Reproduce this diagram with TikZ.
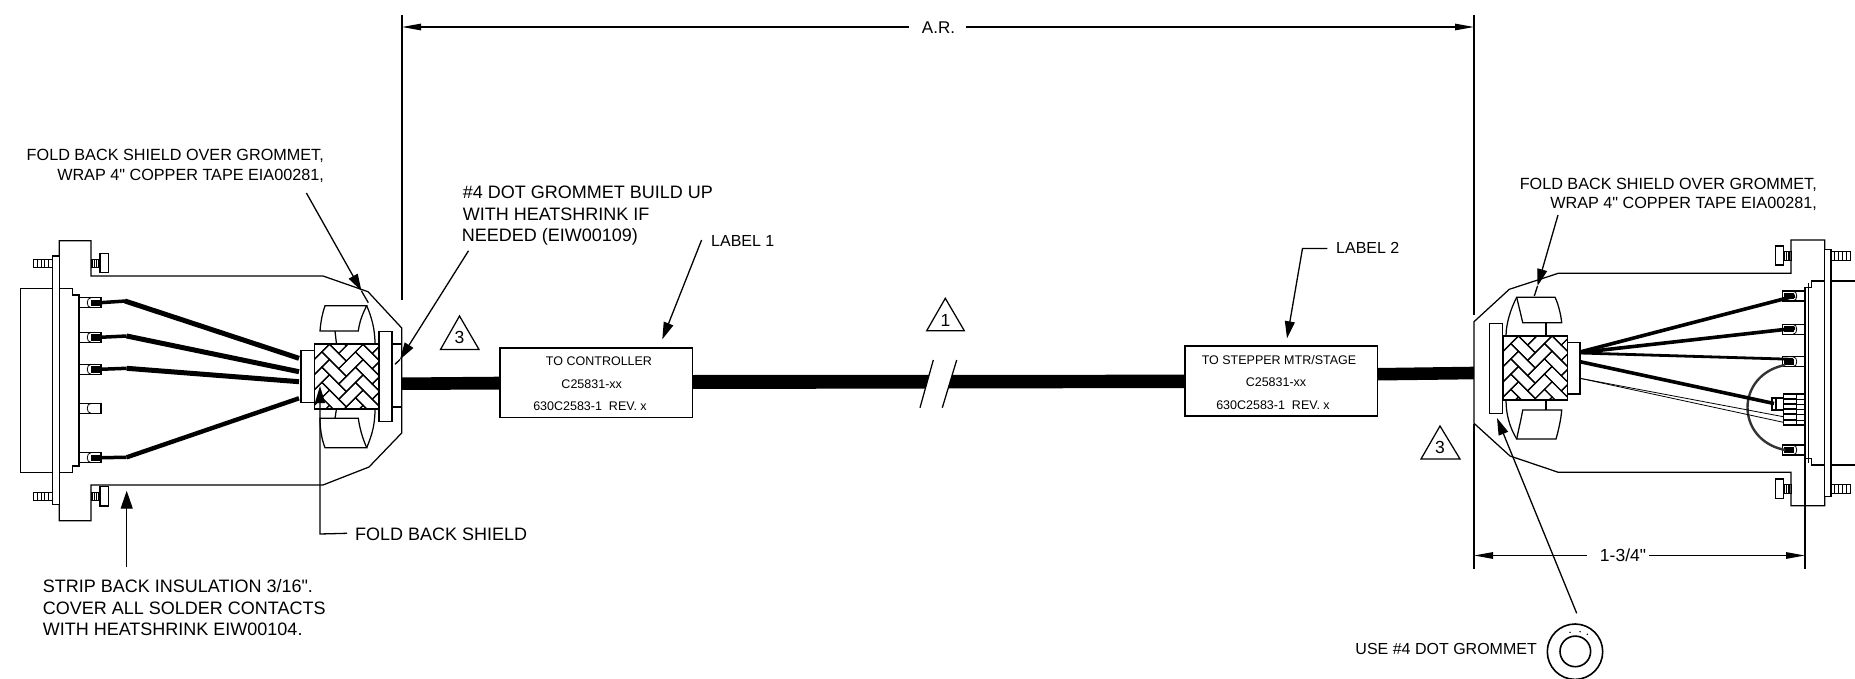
\documentclass[tikz,border=0pt]{standalone}
\usepackage{fontspec}
\newfontfamily\lib{Liberation Sans}
\usetikzlibrary{arrows.meta}
\tikzset{
  ln/.style={draw=black,line width=1.25pt,line join=miter},
  thn/.style={draw=black,line width=0.8pt},
  wire/.style={draw=black,line width=5pt,line join=round},
  leader/.style={draw=black,line width=1.3pt},
  head/.style={draw=black,line width=1.3pt,-{Triangle[length=17pt,width=10pt]}},
  headw/.style={draw=black,line width=1.3pt,-{Triangle[length=18pt,width=12pt]}},
  dim/.style={draw=black,line width=1.2pt,-{Triangle[length=19pt,width=6.5pt]}},
  txa/.style={font=\lib\fontsize{16.2}{18}\selectfont,inner sep=0pt,anchor=east},
  txb/.style={font=\lib\fontsize{18}{20}\selectfont,inner sep=0pt,anchor=west},
  txbs/.style={font=\lib\fontsize{16}{18}\selectfont,inner sep=0pt,anchor=west},
  txc/.style={font=\lib\fontsize{17.5}{18}\selectfont,inner sep=0pt},
  txd/.style={font=\lib\fontsize{12.5}{14}\selectfont,inner sep=0pt},
  cable/.style={fill=black,draw=none}
}
\newcommand{\mythread}[3]{% x0 x1 ymid
  \draw[thn] (#1,#3-4.2) rectangle (#2,#3+4.2);
  \foreach \t in {0.2,0.4,0.6,0.8}{\draw[thn] ({#1+\t*(#2-#1)},#3-4.2) -- ({#1+\t*(#2-#1)},#3+4.2);}
}
\newcommand{\mypinL}[1]{% left pin, ymid
  \draw[ln] (79,#1-5) -- (101,#1-5) -- (101,#1+5) -- (79,#1+5);
  \draw[thn] (91,#1-5) .. controls (86,#1-5) and (86,#1+5) .. (91,#1+5);
}
\newcommand{\mypinR}[1]{% right pin
  \draw[ln] (1804.3,#1-5) -- (1782.7,#1-5) -- (1782.7,#1+5) -- (1804.3,#1+5);
  \draw[thn] (1793,#1-5) .. controls (1798,#1-5) and (1798,#1+5) .. (1793,#1+5);
  \fill (1784,#1-3) rectangle (1794,#1+3);
}
\newcommand{\mybraid}[4]{% x0 y0 x1 y1
  \begin{scope}
    \clip (#1,#2) rectangle (#3,#4);
    \fill[white] (#1,#2) rectangle (#3,#4);
    \begin{scope}[shift={({(#1+#3)/2},{(#2+#4)/2})},rotate=45,x=10.8pt,y=10.8pt]
      \foreach \i in {-9,...,9}{\foreach \j in {-5,...,5}{
        \draw[line width=1.2pt] ({\i+2.2*\j},{\i-2.2*\j}) rectangle +(2.2,1);
        \draw[line width=1.2pt] ({\i+2.2*\j+2.2},{\i-2.2*\j-1.2}) rectangle +(1,2.2);
      }}
    \end{scope}
  \end{scope}
  \draw[line width=1.6pt] (#1,#2) rectangle (#3,#4);
}
\begin{document}
\begin{tikzpicture}[x=1pt,y=-1pt]
\path[use as bounding box,fill=white] (0,0) rectangle (1855,679);
\begin{scope}
\clip (0,0) rectangle (1855,679);

% ---- cable
\fill[cable] (400,377.5) -- (500,376.7) -- (500,389.5) -- (400,390) -- cycle;
\fill[cable] (692,375) -- (1185,374.7) -- (1185,388) -- (692,389) -- cycle;
\fill[white] (930,372) -- (953,372) -- (947,392) -- (924.4,392) -- cycle;
\fill[cable] (1377,368) -- (1474,366.7) -- (1474,379.3) -- (1377,380.5) -- cycle;

% ---- dimension lines
\coordinate (ARL) at (402,27); \coordinate (ARR) at (1474,27);
\draw[ln] (402,15) -- (402,300);
\draw[ln] (1474,15) -- (1474,315);
\draw[ln] (1474,424) -- (1474,569);
\node[txc,font=\lib\fontsize{17}{18}\selectfont] (ar) at (938.5,28) {A.R.};
\draw[dim] (ar.west) ++(-13,-1) -- (ARL);
\draw[dim] (ar.east) ++(11,-1) -- (ARR);
\coordinate (DL) at (1474,555.5); \coordinate (DR) at (1805,555.5);
\node[txc] (dimb) at (1623,555.5) {1-3/4"};
\draw[dim] (dimb.west) ++(-13,0) -- (DL);
\draw[dim] (dimb.east) ++(3,0) -- (DR);

% ---- left connector
\draw[ln] (59.3,276) -- (59.3,240.7) -- (91,240.7) -- (91,276) -- (323,276) -- (368,291.7) -- (401.7,328) -- (401.7,433) -- (369,467) -- (323,485) -- (91,485) -- (91,520.7) -- (59.3,520.7) -- cycle;
\draw[ln,fill=white] (20.7,288.7) rectangle (52.3,472.3);
\draw[ln,fill=white] (52.3,256) rectangle (59.3,504.7);
\draw[ln] (59.3,288.7) -- (72.7,288.7) -- (72.7,295) -- (79,295) -- (79,466) -- (72.7,466) -- (72.7,472.3) -- (59.3,472.3);
\mythread{33.3}{52.3}{263.5}
\mythread{33.3}{52.3}{496.5}
\mythread{91}{100}{263.5}
\mythread{91}{100}{496.5}
\draw[ln,fill=white] (100,253.3) rectangle (108.3,272.7);
\draw[ln,fill=white] (100,486.7) rectangle (108.3,506);
\foreach \y in {302.7,337.3,369.3,408.3,457.7}{\mypinL{\y}}
\foreach \y in {302.7,337.3,369.3,457.7}{\fill (91,\y-3.2) rectangle (101,\y+3.2);}
\draw[wire,line width=3.5pt] (100,302.7) -- (126,301);
\draw[wire,line width=3.5pt] (100,337.3) -- (126.7,336);
\draw[wire,line width=3.5pt] (100,369.3) -- (126.7,368.3);
\draw[wire,line width=3.5pt] (100,457.7) -- (126.7,457.3);
\draw[wire] (125,301) -- (299,358.3);
\draw[wire] (126.7,336) -- (299,371.7);
\draw[wire] (126.7,368.3) -- (299,381.7);
\draw[wire,line width=4.4pt] (126.7,457.3) -- (299,398.3);
% foldback (left)
\draw[ln] (366.7,305.7) .. controls (372,318) and (375,330) .. (375,344);
\draw[ln,fill=white] (325,305.7) -- (366.7,305.7) .. controls (362,315) and (359.5,322) .. (358.3,331) -- (320,331) .. controls (321,320) and (322,315) .. (325,305.7) -- cycle;
\draw[ln] (335,331) -- (336.5,344);
\draw[ln] (366.7,447.7) .. controls (372,435) and (375,425) .. (375,408.7);
\draw[ln,fill=white] (325,447.7) -- (366.7,447.7) .. controls (362,437) and (359.5,427) .. (358.3,418.3) -- (320,418.3) .. controls (320,430) and (322,440) .. (325,447.7) -- cycle;
\draw[ln] (335,418.3) -- (336.5,408.7);
\draw[ln,fill=white] (301,350.7) rectangle (314.3,402.7);
\mybraid{314.3}{344}{378.3}{408.7}
\draw[ln,fill=white] (392,344) rectangle (401.7,407);
\draw[ln,fill=white] (379,331.7) rectangle (392,421.7);

% ---- right connector
\draw[ln,fill=white] (1474,321.7) -- (1509.3,289.3) -- (1558.3,273.3) -- (1791,273.3) -- (1791,240) -- (1824.7,240) -- (1824.7,505.7) -- (1791,505.7) -- (1791,472.3) -- (1558.3,472.3) -- (1510,456) -- (1474,423.3) -- cycle;
\draw[ln,fill=white] (1824.7,249.3) rectangle (1831,496.7);
\draw[ln] (1831,281) -- (1855,281);
\draw[ln] (1831,465) -- (1855,465);
\draw[ln] (1805,287) -- (1805,569);
\draw[ln] (1824.7,281) -- (1811.7,281) -- (1811.7,287.7) -- (1804.3,287.7) -- (1804.3,458.3) -- (1811.7,458.3) -- (1811.7,465) -- (1824.7,465);
\draw[thn] (1808.3,283) -- (1808.3,463);
\mythread{1831}{1850}{255.8}
\mythread{1831}{1850}{489}
\mythread{1783.3}{1791}{255.8}
\mythread{1783.3}{1791}{489}
\draw[ln,fill=white] (1775.7,246) rectangle (1783.3,265);
\draw[ln,fill=white] (1775.7,479) rectangle (1783.3,498.3);
\foreach \y in {296,329.3,361.7,450}{\mypinR{\y}}
% multi-pin
\draw[ln] (1804.3,394) -- (1783.3,394) -- (1783.3,425) -- (1804.3,425);
\foreach \y in {399,404,409,414,420}{\draw[line width=1.7pt] (1783.3,\y) -- (1796,\y);\draw[thn] (1796,\y) -- (1804.3,\y);}
\draw[thn,line width=1pt] (1796,394) -- (1796,425);
\draw[ln,line width=1.9pt] (1783.3,397.7) -- (1771.7,397.7) -- (1771.7,410) -- (1783.3,410);
\draw[ln,line width=1.9pt] (1776,397.7) -- (1776,410);
% loop wire
\draw[draw=black!80,line width=2.4pt] (1785,365) .. controls (1735,375) and (1735,440) .. (1785,450);
% wires
\draw[wire,line width=3.6pt] (1580,352) -- (1795,296);
\draw[wire,line width=3.6pt] (1580,352.5) -- (1795,328.3);
\draw[wire,line width=2.8pt] (1580,353) -- (1793,359.3);
\draw[wire,line width=3.6pt] (1580,361.7) -- (1774,403.5);
\draw[thn] (1580,378.3) -- (1783.3,416.7);
\draw[thn] (1580,378.3) -- (1783.3,422.3);
% foldback (right)
\draw[ln] (1516.7,297.3) .. controls (1510,310) and (1506,325) .. (1506,336);
\draw[ln,fill=white] (1516.7,297.3) -- (1555,297.3) .. controls (1558,303) and (1561,315) .. (1561.7,322.7) -- (1522.7,322.7) .. controls (1521,315) and (1518,303) .. (1516.7,297.3) -- cycle;
\draw[ln] (1546,322.7) -- (1546,336);
\draw[ln] (1516.7,439) .. controls (1510,428) and (1506,415) .. (1506,400);
\draw[ln,fill=white] (1522.7,410) -- (1561.7,410) .. controls (1561,420) and (1558,432) .. (1556,439) -- (1516.7,439) .. controls (1518,432) and (1521,420) .. (1522.7,410) -- cycle;
\draw[ln] (1546,410) -- (1546,400);
\draw[ln,fill=white] (1567.3,342.3) rectangle (1580,394);
\mybraid{1503.3}{336}{1567.3}{400}
\draw[ln,fill=white] (1489.3,323.3) rectangle (1502.7,413.3);

% ---- label boxes
\node[draw,line width=1.5pt,minimum width=192.7pt,minimum height=69.7pt,inner sep=0pt,fill=white] (box1) at (596.3,382.8) {};
\node[txd] (b1a) at (599,361) {TO CONTROLLER};
\node[txd] (b1b) at (591.7,384) {C25831-xx};
\node[txd] (b1c) at (590,406) {630C2583-1\ \ REV. x};
\node[draw,line width=1.5pt,minimum width=192.7pt,minimum height=70pt,inner sep=0pt,fill=white] (box2) at (1281.3,381) {};
\node[txd] (b2a) at (1279,359.7) {TO STEPPER MTR/STAGE};
\node[txd] (b2b) at (1276,382) {C25831-xx};
\node[txd] (b2c) at (1273,404.7) {630C2583-1\ \ REV. x};

% ---- break slashes
\coordinate (s1a) at (933.3,360); \coordinate (s1b) at (920,407.7);
\coordinate (s2a) at (956.7,360); \coordinate (s2b) at (942.3,407.7);
\draw[ln] (s1a) -- (s1b);
\draw[ln] (s2a) -- (s2b);

% ---- triangles
\draw[ln] (945.3,298.3) -- (926.7,330.7) -- (964.3,330.7) -- cycle;
\node[txc] (t1) at (945.5,320) {1};
\draw[ln] (459.5,316) -- (440.5,349.5) -- (479,349.5) -- cycle;
\node[txc] (t3a) at (459.5,337.5) {3};
\draw[ln] (1440,426) -- (1421,459) -- (1460,459) -- cycle;
\node[txc] (t3b) at (1440,447.5) {3};

% ---- texts
\node[txa] (n1) at (324,156) {FOLD BACK SHIELD OVER GROMMET,};
\node[txa] (n2) at (324,175.5) {WRAP 4" COPPER TAPE EIA00281,};
\node[txb] (n3) at (462.6,192) {\#4 DOT GROMMET BUILD UP};
\node[txb] (n4) at (462.6,214.5) {WITH HEATSHRINK IF};
\node[txb] (n5) at (461.6,236.5) {NEEDED (EIW00109)};
\node[txbs] (n6) at (711,240.5) {LABEL 1};
\node[txbs] (n7) at (1336,247.5) {LABEL 2};
\node[txa] (n8) at (1817,184.5) {FOLD BACK SHIELD OVER GROMMET,};
\node[txa] (n9) at (1817,204) {WRAP 4" COPPER TAPE EIA00281,};
\node[txb] (n10) at (355,534) {FOLD BACK SHIELD};
\node[txb] (n11) at (42.6,586.5) {STRIP BACK INSULATION 3/16".};
\node[txb] (n12) at (42.6,608) {COVER ALL SOLDER CONTACTS};
\node[txb] (n13) at (42.6,629.5) {WITH HEATSHRINK EIW00104.};
\node[txa,font=\lib\fontsize{16}{18}\selectfont] (n14) at (1537,648.5) {USE \#4 DOT GROMMET};

% ---- grommet
\node[draw,circle,line width=1.6pt,minimum size=55.4pt,inner sep=0pt] (gro) at (1575,651.7) {};
\node[draw,circle,line width=1.6pt,minimum size=30.6pt,inner sep=0pt] (gri) at (1575.3,651.4) {};
\foreach \p in {(1570,632.3),(1580,631.7),(1587.3,634.3)}{\fill \p circle (0.8pt);}

% ---- leaders
\coordinate (la1) at (306.4,193); \coordinate (la1h) at (361.5,291); \coordinate (la1e) at (368.3,302.7);
\draw[head] (la1) -- (la1h); \draw[leader] (la1h) -- (la1e);
\coordinate (la2) at (468.5,250.8); \coordinate (la2h) at (400,359.5); \coordinate (la2e) at (395,364.3);
\draw[head] (la2) -- (la2h); \draw[leader] (la2h) -- (la2e);
\coordinate (la3) at (320,533.3); \coordinate (la3h) at (320,386);
\draw[head] (n10.west) ++(-8,-0.7) -- (la3 |- n10) -- (la3h);
\coordinate (la4) at (126.7,567); \coordinate (la4h) at (126.7,490.7);
\draw[headw] (la4) -- (la4h);
\coordinate (la5) at (701.6,240); \coordinate (la5h) at (662.3,339.3);
\draw[head] (la5) -- (la5h);
\coordinate (la6) at (1327.4,248.4); \coordinate (la6b) at (1302.5,248.4); \coordinate (la6h) at (1287,338.3);
\draw[head] (la6) -- (la6b) -- (la6h);
\coordinate (la7) at (1558,215); \coordinate (la7h) at (1537.5,286); \coordinate (la7e) at (1534.3,296);
\draw[head] (la7) -- (la7h); \draw[leader] (la7h) -- (la7e);
\coordinate (la8) at (1576.7,613.3); \coordinate (la8h) at (1497,418);
\draw[head] (la8) -- (la8h);
\end{scope}
\end{tikzpicture}
\end{document}
